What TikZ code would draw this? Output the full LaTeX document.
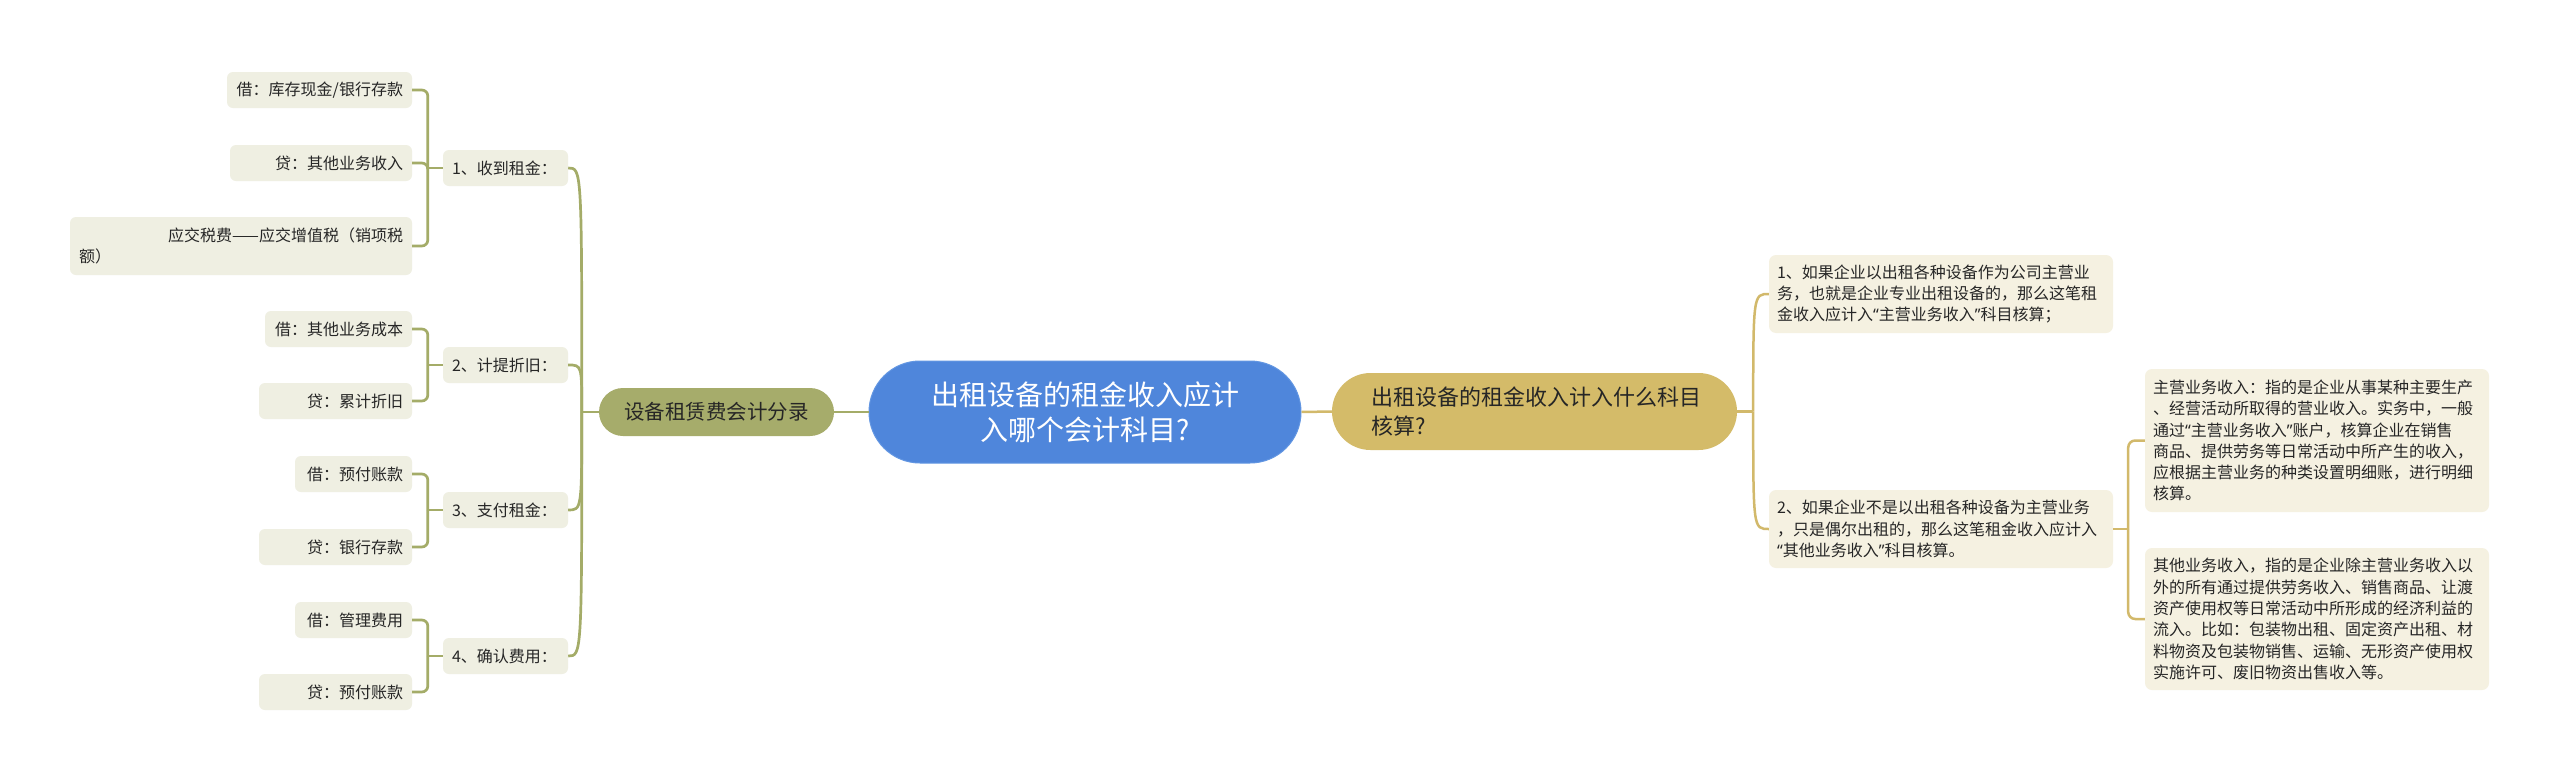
\documentclass[tikz,border=0pt]{standalone}
\usepackage{fontspec}
\setmainfont{Noto Sans CJK SC}
\newfontfamily\latq{Noto Sans}
\newcommand{\qopen}{{\latq “}}
\newcommand{\qclose}{{\latq ”}}
\definecolor{bgc}{HTML}{FFFFFF}
\definecolor{txtc}{HTML}{262626}
\definecolor{centerfill}{HTML}{4F86DB}
\definecolor{centerdraw}{HTML}{6296E2}
\definecolor{olivefill}{HTML}{A6AC6B}
\definecolor{oliveln}{HTML}{A4AC68}
\definecolor{goldfill}{HTML}{D4BB69}
\definecolor{goldln}{HTML}{D2B96B}
\definecolor{lboxfill}{HTML}{EFEFE2}
\definecolor{rboxfill}{HTML}{F5F1E1}
\begin{document}
\begin{tikzpicture}[x=1pt,y=-1pt,
  lbox/.style={rectangle, rounded corners=6pt, fill=lboxfill, text=txtc,
    font=\fontsize{16}{21}\selectfont, inner xsep=9pt, inner ysep=0pt,
    minimum height=36pt},
  rbox/.style={rectangle, rounded corners=7pt, fill=rboxfill, text=txtc,
    font=\fontsize{16}{21.3}\selectfont, inner xsep=8pt, inner ysep=0pt,
    text width=328pt, align=left},
  oline/.style={draw=oliveln, line width=2.7pt},
  gline/.style={draw=goldln, line width=2.5pt},
  rc/.style={rounded corners=6pt}
]
\useasboundingbox (0,0) rectangle (2560,782);
\fill[bgc] (0,0) rectangle (2560,782);

% central node
\node[rectangle, rounded corners=51pt, fill=centerfill, draw=centerdraw, line width=1pt,
  minimum width=432pt, minimum height=102pt, text=white, align=center,
  font=\fontsize{28}{35}\selectfont] (C) at (1085,412)
  {出租设备的租金收入应计\\入哪个会计科目?};

% left main
\node[rectangle, rounded corners=24pt, fill=olivefill, minimum width=235pt,
  minimum height=48pt, text=txtc, font=\fontsize{20.5}{24}\selectfont] (ML) at (716.5,412)
  {设备租赁费会计分录};

% right main
\node[rectangle, rounded corners=38.5pt, fill=goldfill, inner xsep=39pt, inner ysep=0pt,
  text width=327pt, align=left, minimum height=77pt, text=txtc,
  font=\fontsize{22}{29}\selectfont] (MR) at (1534.5,411.5)
  {出租设备的租金收入计入什么科目\\核算?};

% level-2 left
\node[lbox, text width=107pt, align=left] (K1) at (505.5,168) {1、收到租金：};
\node[lbox, text width=107pt, align=left] (K2) at (505.5,365) {2、计提折旧：};
\node[lbox, text width=107pt, align=left] (K3) at (505.5,510) {3、支付租金：};
\node[lbox, text width=107pt, align=left] (K4) at (505.5,656) {4、确认费用：};

% leaves left
\node[lbox, text width=167pt, align=right] (L1a) at (319.5,90) {借：库存现金/银行存款};
\node[lbox, text width=164pt, align=right] (L1b) at (321,163) {贷：其他业务收入};
\node[lbox, text width=324pt, align=left, minimum height=58pt] (L1c) at (241,246)
  {\hspace*{\fill}应交税费——应交增值税（销项税\\额）};
\node[lbox, text width=129pt, align=right] (L2a) at (338.5,329) {借：其他业务成本};
\node[lbox, text width=135pt, align=right] (L2b) at (335.5,401) {贷：累计折旧};
\node[lbox, text width=99pt, align=right] (L3a) at (353.5,474) {借：预付账款};
\node[lbox, text width=135pt, align=right] (L3b) at (335.5,547) {贷：银行存款};
\node[lbox, text width=99pt, align=right] (L4a) at (353.5,620) {借：管理费用};
\node[lbox, text width=135pt, align=right] (L4b) at (335.5,692) {贷：预付账款};

% right children
\node[rbox, minimum height=78pt] (RC1) at (1941,294)
  {1、如果企业以出租各种设备作为公司主营业\\务，也就是企业专业出租设备的，那么这笔租\\金收入应计入\qopen 主营业务收入\qclose 科目核算；};
\node[rbox, minimum height=78pt] (RC2) at (1941,529)
  {2、如果企业不是以出租各种设备为主营业务\\，只是偶尔出租的，那么这笔租金收入应计入\\\qopen 其他业务收入\qclose 科目核算。};
\node[rbox, minimum height=143pt] (G1) at (2317,440.5)
  {主营业务收入：指的是企业从事某种主要生产\\、经营活动所取得的营业收入。实务中，一般\\通过\qopen 主营业务收入\qclose 账户，核算企业在销售\\商品、提供劳务等日常活动中所产生的收入，\\应根据主营业务的种类设置明细账，进行明细\\核算。};
\node[rbox, minimum height=142pt] (G2) at (2317,619)
  {其他业务收入，指的是企业除主营业务收入以\\外的所有通过提供劳务收入、销售商品、让渡\\资产使用权等日常活动中所形成的经济利益的\\流入。比如：包装物出租、固定资产出租、材\\料物资及包装物销售、运输、无形资产使用权\\实施许可、废旧物资出售收入等。};

% connectors: center to mains
\draw[oline] (C.west) -- (ML.east);
\draw[gline] (C.east) -- (MR.west);

% left trunk
\draw[oline] (ML.west) -- ++(-17,0) coordinate (tl);
\foreach \k in {K1,K2,K3,K4}{
  \draw[oline] (tl) .. controls (tl |- \k.east) .. (\k.east);
}

% left brackets
\draw[oline] (K1.west) -- ++(-15,0) coordinate (j1);
\foreach \l in {L1a,L1b,L1c}{ \draw[oline, rc] (j1) |- (\l.east); }
\draw[oline] (K2.west) -- ++(-15,0) coordinate (j2);
\foreach \l in {L2a,L2b}{ \draw[oline, rc] (j2) |- (\l.east); }
\draw[oline] (K3.west) -- ++(-15,0) coordinate (j3);
\foreach \l in {L3a,L3b}{ \draw[oline, rc] (j3) |- (\l.east); }
\draw[oline] (K4.west) -- ++(-15,0) coordinate (j4);
\foreach \l in {L4a,L4b}{ \draw[oline, rc] (j4) |- (\l.east); }

% right trunk
\draw[gline] (MR.east) -- ++(16,0) coordinate (tr);
\foreach \k in {RC1,RC2}{
  \draw[gline] (tr) .. controls (tr |- \k.west) .. (\k.west);
}
% right bracket
\draw[gline] (RC2.east) -- ++(15,0) coordinate (jr);
\foreach \g in {G1,G2}{ \draw[gline, rounded corners=7pt] (jr) |- (\g.west); }
\end{tikzpicture}
\end{document}
